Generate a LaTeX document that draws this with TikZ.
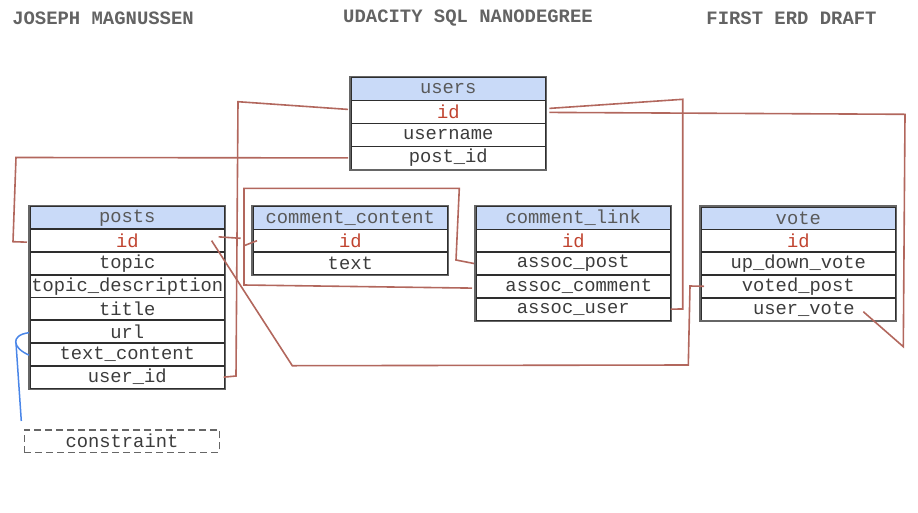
\documentclass[tikz,border=0pt]{standalone}
\usepackage{fontspec}
\setmainfont{Liberation Mono}
\definecolor{hdrblue}{HTML}{C9DAF8}
\definecolor{keyred}{HTML}{C0432F}
\definecolor{txt}{HTML}{3C3C3C}
\definecolor{rowline}{HTML}{2E2E2E}
\definecolor{framegray}{HTML}{666666}
\definecolor{linkbrown}{HTML}{B2675D}
\definecolor{consblue}{HTML}{4A86E8}
\begin{document}
\begin{tikzpicture}[x=1pt,y=-1pt,
  row/.style={draw=rowline, line width=1.6pt, minimum width=195pt, minimum height=22.8pt,
    inner sep=0pt, anchor=north west, text=txt, font=\fontsize{18.8}{20}\selectfont},
  hdr/.style={row, fill=hdrblue, text=txt!85!white},
  keyrow/.style={row, text=keyred},
  frame/.style={draw=framegray, line width=1.5pt},
  title/.style={font=\fontsize{18.9}{20}\selectfont\bfseries, text=txt!80!white, inner sep=0pt},
  link/.style={draw=linkbrown, line width=1.6pt, line join=miter},
  cons/.style={draw=consblue, line width=1.5pt}]
\useasboundingbox (0,0) rectangle (918,512);

% titles
\node[title] (t1) at (103,18.5) {JOSEPH MAGNUSSEN};
\node[title] (t2) at (468,18.5) {UDACITY SQL NANODEGREE};
\node[title] (t3) at (791.5,18.5) {FIRST ERD DRAFT};

% users
\node[hdr] (u0) at (350,76.7) {users};
\node[keyrow] (u1) at (350,99.7) {id};
\node[row] (u2) at (350,122.7) {username};
\node[row] (u3) at (350,145.7) {post\_id};
\draw[frame] (u0.north west) rectangle (u3.south east);

% posts
\node[hdr] (p0) at (29,205.7) {posts};
\node[keyrow] (p1) at (29,228.45) {id};
\node[row] (p2) at (29,251.2) {topic};
\node[row] (p3) at (29,273.95) {topic\_description};
\node[row] (p4) at (29,296.7) {title};
\node[row] (p5) at (29,319.45) {url};
\node[row] (p6) at (29,342.2) {text\_content};
\node[row] (p7) at (29,364.95) {user\_id};
\draw[frame] (p0.north west) rectangle (p7.south east);

% comment_content
\node[hdr] (cc0) at (252,205.7) {comment\_content};
\node[keyrow] (cc1) at (252,228.5) {id};
\node[row] (cc2) at (252,251.3) {text};
\draw[frame] (cc0.north west) rectangle (cc2.south east);

% comment_link
\node[hdr] (cl0) at (475,205.7) {comment\_link};
\node[keyrow] (cl1) at (475,228.5) {id};
\node[row] (cl2) at (475,251.3) {assoc\_post};
\node[row] (cl3) at (475,274.1) {\hspace{11pt}assoc\_comment};
\node[row] (cl4) at (475,296.9) {assoc\_user};
\draw[frame] (cl0.north west) rectangle (cl4.south east);

% vote
\node[hdr] (v0) at (700,206) {vote};
\node[keyrow] (v1) at (700,228.7) {id};
\node[row] (v2) at (700,251.4) {up\_down\_vote};
\node[row] (v3) at (700,274.1) {voted\_post};
\node[row] (v4) at (700,296.8) {\hspace{11pt}user\_vote};
\draw[frame] (v0.north west) rectangle (v4.south east);

% constraint
\node[draw=framegray, line width=1.5pt, dash pattern=on 7pt off 4pt, minimum width=195pt,
  minimum height=22.7pt, inner sep=0pt, anchor=north west, text=txt,
  font=\fontsize{18.8}{20}\selectfont] (c) at (23.7,429) {constraint};

% connectors
\coordinate (j1) at (240.7,238.3);
\coordinate (j2) at (244,245.7);
\coordinate (j3) at (863.3,311.7);
\coordinate (j4) at (21.3,421);

\draw[link] ([xshift=-2pt,yshift=2.5pt]u1.west) -- (238,101.7) -- (236,376) -- ([xshift=-2pt]p7.east);
\draw[link] ([xshift=-2pt]u3.west) -- (16,157.5) -- (13,241.7) -- ([xshift=-2pt,yshift=-1.5pt]p1.west);
\draw[link] ([xshift=-7pt,yshift=3.8pt]p1.east) -- (j1);
\draw[link] ([xshift=-1pt]cl2.west) -- (456,260) -- (459.3,188.3) -- (244,188.3) -- (244,285) -- ([xshift=-3pt,yshift=-1.8pt]cl3.west);
\draw[link] ([xshift=5pt]cc1.west) -- (j2);
\draw[link] ([xshift=-14pt]p1.east) -- (292.3,365.7) -- (688.3,365) -- (690,286) -- ([xshift=4pt]v3.west);
\draw[link] ([xshift=2.7pt,yshift=3.5pt]u1.east) -- (682.7,99.3) -- (682.7,309) -- ([xshift=-1pt]cl4.east);
\draw[link] ([xshift=2.7pt,yshift=-0.5pt]u1.east) -- (905,114.3) -- (903.3,346.7) -- (j3);

% constraint bracket
\draw[cons] ([yshift=-1pt]p5.west) .. controls (19,334) and (15.5,338) .. (15.7,342)
  .. controls (16,347) and (21,351.5) .. ([yshift=-0.7pt]p6.west);
\draw[cons] (16,343) -- (j4);
\end{tikzpicture}
\end{document}
